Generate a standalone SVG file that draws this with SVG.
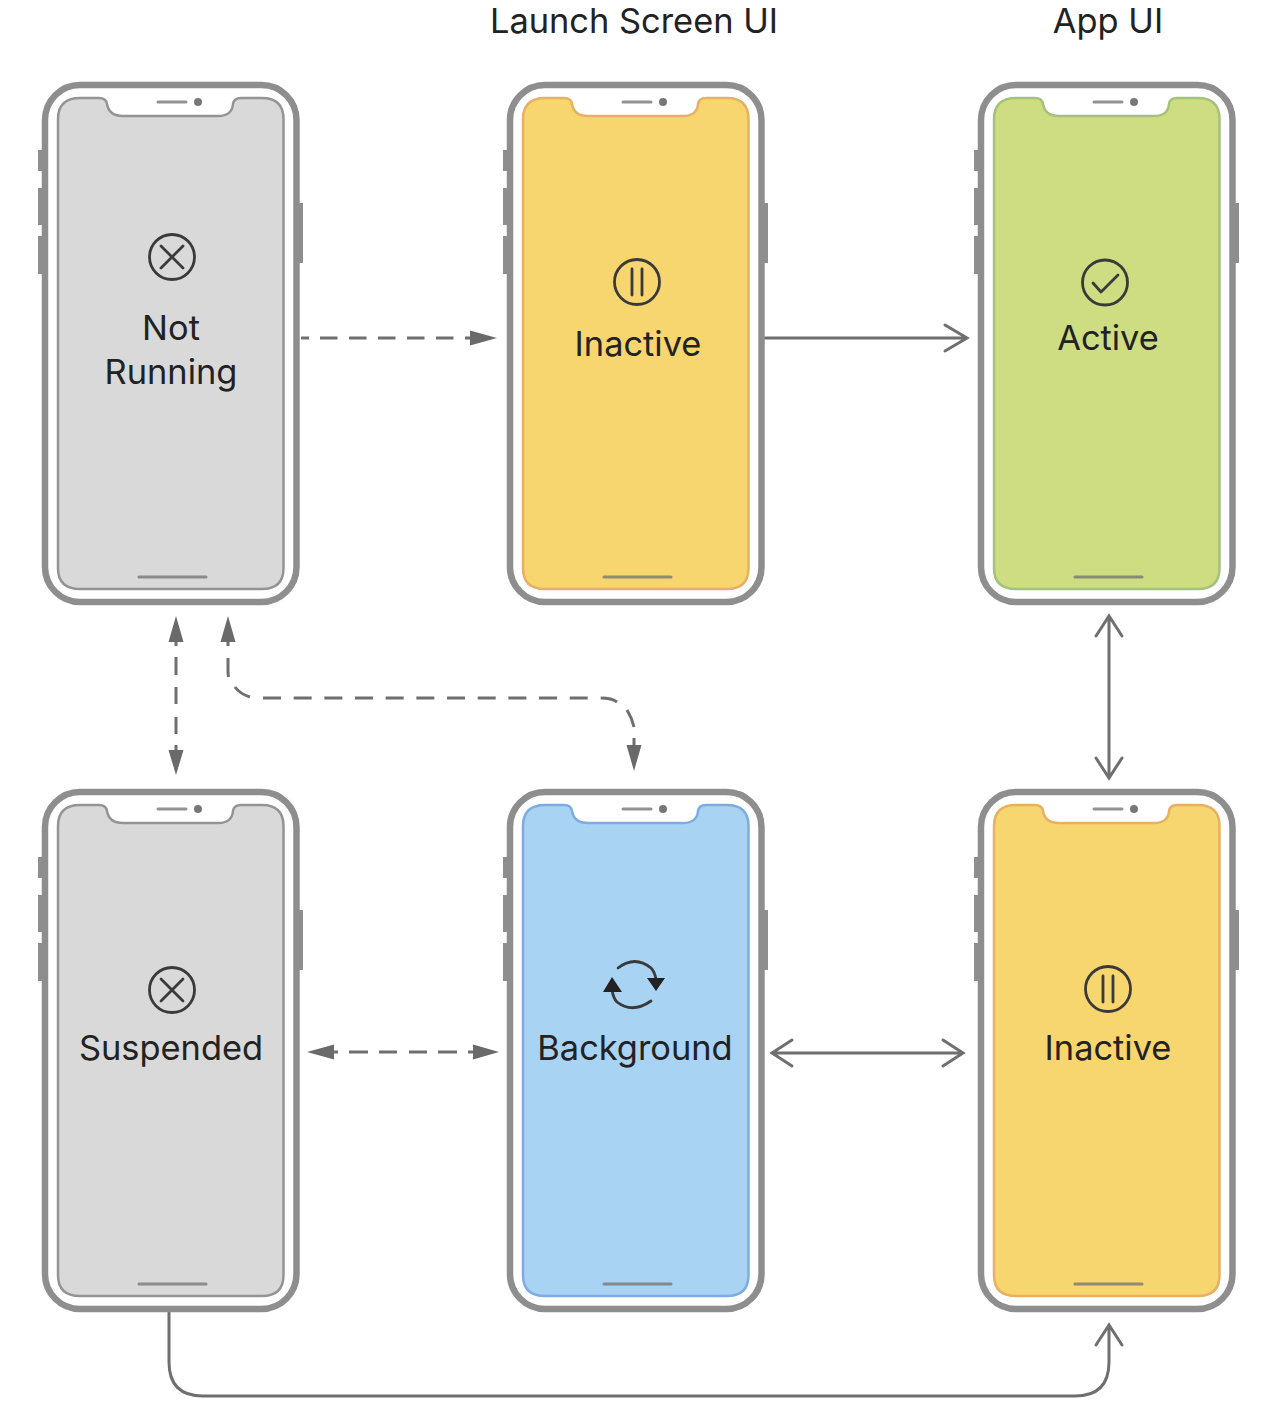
<svg xmlns="http://www.w3.org/2000/svg" width="1262" height="1418" viewBox="0 0 1262 1418">
<style>
text{font-family:"Inter","Roboto","Liberation Sans",sans-serif;font-size:34.4px;fill:#222;text-anchor:middle}
.frame{fill:#fff;stroke:#8e8e8e;stroke-width:6.5}
.btn{fill:#8e8e8e}
.scr{stroke-width:2.5}
.gray{fill:#d9d9d9;stroke:#949494}
.yellow{fill:#f7d56f;stroke:#e8b062}
.green{fill:#cfdd82;stroke:#a3c27a}
.blue{fill:#a8d3f3;stroke:#7dade0}
.det{stroke:#777;stroke-opacity:.8;stroke-width:3;fill:none;stroke-linecap:round}
.ic{fill:none;stroke:#3a3a3a;stroke-width:2.8;stroke-linecap:round;stroke-linejoin:round}
.c{fill:none;stroke:#6f6f6f;stroke-width:3;stroke-linecap:round}
.d{stroke-linecap:butt}
.h{fill:#6a6a6a}
</style>
<defs>
<g id="body">
<rect class="btn" x="38" y="150" width="6" height="21"/>
<rect class="btn" x="38" y="188" width="6" height="37"/>
<rect class="btn" x="38" y="236" width="6" height="38"/>
<rect class="btn" x="297" y="203" width="6" height="60"/>
<rect class="frame" x="45" y="85" width="251.5" height="517" rx="35"/>
</g>
<path id="screen" d="M80 98H99Q106 98 107 104Q109 116 123 116H218Q232 116 233 104Q234 98 241 98H262Q283.5 98 283.5 119V568Q283.5 589 262 589H80Q58 589 58 568V119Q58 98 80 98Z"/>
<g id="details">
<path class="det" d="M158 102H186M139 577H206"/>
<circle cx="198" cy="102" r="4" fill="#777"/>
</g>
<g id="xicon">
<circle class="ic" cx="0" cy="0" r="22.5"/>
<path class="ic" d="M-11 -11L11 11M11 -11L-11 11"/>
</g>
<g id="pause">
<circle class="ic" cx="0" cy="0" r="22.5"/>
<path class="ic" d="M-5 -13V13M5 -13V13"/>
</g>
</defs>

<g id="connectors">
<path class="c d" d="M301 338H309"/>
<path class="c d" stroke-dasharray="17.5 11.5" d="M320 338H471"/>
<path class="h" d="M497 338L470 330.500V345.500Z"/>
<path class="c" d="M765 338H966M945 325L967 338L945 351"/>
<path class="c" d="M1109 617V777M1096 636L1109 616L1122 636M1096 758L1109 778L1122 758"/>
<path class="c d" d="M176 640V646M176 657V675M176 687V704M176 717V734M176 745V752"/>
<path class="h" d="M176 616L168.500 642H183.500ZM176 775L168.500 750H183.500Z"/>
<path class="c d" d="M228 640V646M228 658V671Q228 674 228.500 677M235 687Q240 694 250 697"/>
<path class="c d" stroke-dasharray="18 12.670" d="M263 698H600"/>
<path class="c d" d="M600.700 698Q612 698 617 702M627 710Q632 718 634 727M634 738V747"/>
<path class="h" d="M228 616L220.500 642H235.500ZM634 771L626.500 745H641.500Z"/>
<path class="c d" d="M332 1052H338M349 1052H368M379 1052H397M409 1052H427M438 1052H457M468 1052H475"/>
<path class="h" d="M307 1052L334 1044.500V1059.500ZM499 1052L473 1044.500V1059.500Z"/>
<path class="c" d="M772 1053H963M792 1040L772 1053L792 1066M943 1040L963 1053L943 1066"/>
<path class="c" d="M169 1312V1362Q169 1396 203 1396H1075Q1109 1396 1109 1362V1325M1096 1345L1109 1325L1122 1345"/>
</g>

<text id="label-launch" x="634" y="33">Launch Screen UI</text>
<text id="label-app" x="1108" y="33">App UI</text>

<g id="not-running">
<use href="#body"/><use href="#screen" class="scr gray"/><use href="#details"/>
<use href="#xicon" x="172" y="257"/>
<text x="171" y="340">Not</text><text x="171" y="384">Running</text>
</g>
<g id="inactive-top" transform="translate(465 0)">
<use href="#body"/><use href="#screen" class="scr yellow"/><use href="#details"/>
<use href="#pause" x="172" y="282"/>
<text x="173" y="356">Inactive</text>
</g>
<g id="active" transform="translate(936 0)">
<use href="#body"/><use href="#screen" class="scr green"/><use href="#details"/>
<circle class="ic" cx="169" cy="282.500" r="22.500"/><path class="ic" d="M157 283L165 292L182 275"/>
<text x="172" y="350">Active</text>
</g>
<g id="suspended" transform="translate(0 707)">
<use href="#body"/><use href="#screen" class="scr gray"/><use href="#details"/>
<use href="#xicon" x="172" y="283"/>
<text x="171" y="353">Suspended</text>
</g>
<g id="background" transform="translate(465 707)">
<use href="#body"/><use href="#screen" class="scr blue"/><use href="#details"/>
<path class="ic" d="M153 261Q170 248 186 261Q190 265 191 273M186 294Q167 307 152 295Q148 291 147 282"/>
<path d="M191 284L182 271H200Z M147 270L138 285H157Z" fill="#222"/>
<text x="170" y="353">Background</text>
</g>
<g id="inactive-bottom" transform="translate(936 707)">
<use href="#body"/><use href="#screen" class="scr yellow"/><use href="#details"/>
<use href="#pause" x="172" y="282"/>
<text x="172" y="353">Inactive</text>
</g>
</svg>
